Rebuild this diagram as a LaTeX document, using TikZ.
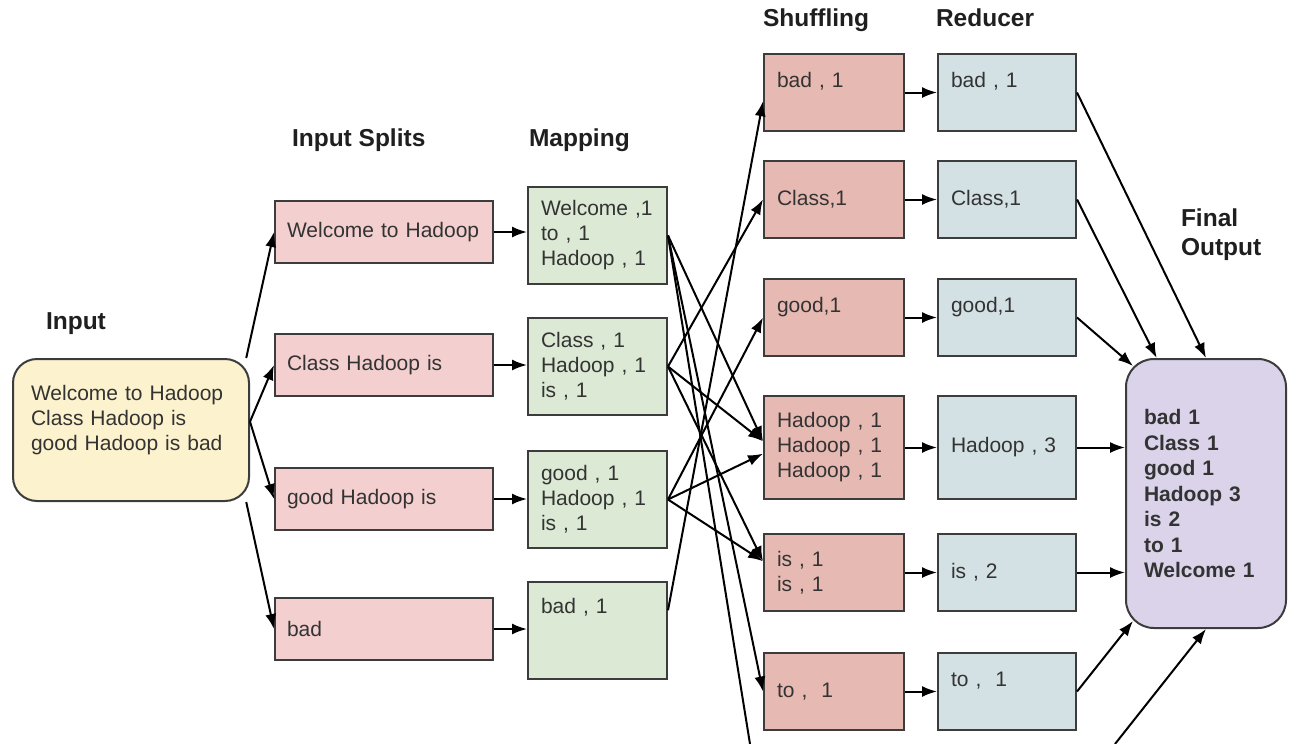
\documentclass[tikz,border=0pt]{standalone}
\usepackage{fontspec}
\setmainfont{Liberation Sans}
\usetikzlibrary{positioning,arrows.meta,calc}

\definecolor{edge}{HTML}{3C3C3C}
\definecolor{ink}{HTML}{333333}
\definecolor{inputfill}{HTML}{FCF2CE}
\definecolor{splitfill}{HTML}{F3CFCF}
\definecolor{mapfill}{HTML}{DCE9D5}
\definecolor{shuffill}{HTML}{E7B9B3}
\definecolor{redfill}{HTML}{D3E1E4}
\definecolor{outfill}{HTML}{DAD3EA}

\begin{document}
\begin{tikzpicture}[x=1pt, y=-1pt, line width=2pt,
    box/.style = {draw=edge, rectangle, anchor=north west, inner xsep=13pt, inner ysep=0pt, align=left, text=ink, font=\fontsize{21}{25}\selectfont},
    splitbox/.style = {box, fill=splitfill, inner xsep=12pt, text width=194pt, minimum height=62pt},
    mapbox/.style = {box, fill=mapfill, text width=113pt, minimum height=97pt},
    shufbox/.style = {box, fill=shuffill, text width=114pt, minimum height=77pt},
    redbox/.style = {box, fill=redfill, text width=112pt, minimum height=77pt},
    heading/.style = {anchor=base west, inner sep=0pt, text=black!88, font=\fontsize{24.5}{29}\selectfont\bfseries},
    arr/.style = {-{Latex[length=15pt,width=11pt]}, black}]
  \useasboundingbox (0,0) rectangle (1296,744);

  % headings
  \node[heading] (hinput) at (45,329) {Input};
  \node[heading] (hsplit) at (291,146) {Input Splits};
  \node[heading] (hmap) at (528,146) {Mapping};
  \node[heading] (hshuf) at (762,27) {Shuffling};
  \node[heading] (hred) at (935,27) {Reducer};
  \node[heading, anchor=west, align=left] (hout) at (1180,235) {Final\\Output};

  % input
  \node[box, fill=inputfill, rounded corners=24pt, inner xsep=18pt, text width=200pt, minimum height=142pt] (input) at (12,358)
    {Welcome to Hadoop\\Class Hadoop is\\good Hadoop is bad\\~};

  % input splits
  \node[splitbox] (s1) at (274,200) {Welcome to Hadoop};
  \node[splitbox] (s2) at (274,333) {Class Hadoop is};
  \node[splitbox] (s3) at (274,467) {good Hadoop is};
  \node[splitbox] (s4) at (274,597) {bad};

  % mapping
  \node[mapbox] (m1) at (527,186) {Welcome ,1\\to , 1\\Hadoop , 1};
  \node[mapbox] (m2) at (527,317) {Class , 1\\Hadoop , 1\\is , 1};
  \node[mapbox] (m3) at (527,450) {good , 1\\Hadoop , 1\\is , 1};
  \node[mapbox] (m4) at (527,581) {bad , 1\\~\\~};

  % shuffling
  \node[shufbox] (sh1) at (763,53) {bad , 1\\~};
  \node[shufbox] (sh2) at (763,160) {Class,1};
  \node[shufbox] (sh3) at (763,278) {good,1\\~};
  \node[shufbox, minimum height=103pt] (sh4) at (763,395) {Hadoop , 1\\Hadoop , 1\\Hadoop , 1};
  \node[shufbox] (sh5) at (763,533) {is , 1\\is , 1};
  \node[shufbox] (sh6) at (763,652) {to ,\ \ 1};

  % reducer
  \node[redbox] (r1) [right=32pt of sh1] {bad , 1\\~};
  \node[redbox] (r2) [right=32pt of sh2] {Class,1};
  \node[redbox] (r3) [right=32pt of sh3] {good,1\\~};
  \node[redbox, minimum height=103pt] (r4) [right=32pt of sh4] {Hadoop , 3};
  \node[redbox] (r5) [right=32pt of sh5] {is , 2};
  \node[redbox] (r6) [right=32pt of sh6] {to ,\ \ 1\\~};

  % final output
  \node[box, fill=outfill, rounded corners=28pt, inner xsep=18pt, text width=124pt, minimum height=269pt,
        font=\fontsize{21}{25.5}\selectfont\bfseries] (out) at (1125,358)
    {bad 1\\Class 1\\good 1\\Hadoop 3\\is 2\\to 1\\Welcome 1};

  % ends of the lines that run off the page
  \coordinate (wshuf) at (750,744);
  \coordinate (wred) at (1115,744);

  \draw[arr] (input.32) -- (s1.west);
  \draw[arr] (input.4) -- (s2.west);
  \draw[arr] (input.4) -- (s3.west);
  \draw[arr] (input.-32) -- (s4.west);

  \draw[arr] (s1.east) -- (s1.east -| m1.west);
  \draw[arr] (s2.east) -- (s2.east -| m2.west);
  \draw[arr] (s3.east) -- (s3.east -| m3.west);
  \draw[arr] (s4.east) -- (s4.east -| m4.west);

  \draw[arr] (m1.east) -- (sh4.175);
  \draw[arr] (m1.east) -- (sh6.west);
  \draw (m1.east) -- (wshuf);
  \draw[arr] (m2.east) -- (sh2.west);
  \draw[arr] (m2.east) -- (sh4.175);
  \draw[arr] (m2.east) -- (sh5.171);
  \draw[arr] (m3.east) -- (sh3.west);
  \draw[arr] (m3.east) -- (sh4.185);
  \draw[arr] (m3.east) -- (sh5.171);
  \draw[arr] (m4.16) -- (sh1.187);

  \draw[arr] (sh1.east) -- (r1.west);
  \draw[arr] (sh2.east) -- (r2.west);
  \draw[arr] (sh3.east) -- (r3.west);
  \draw[arr] (sh4.east) -- (r4.west);
  \draw[arr] (sh5.east) -- (r5.west);
  \draw[arr] (sh6.east) -- (r6.west);

  \draw[arr] (r1.east) -- (out.north);
  \draw[arr] (r2.east) -- (out.110);
  \draw[arr] (r3.east) -- ($(out.north west)+(8,8)$);
  \draw[arr] (r4.east) -- (r4.east -| out.west);
  \draw[arr] (r5.east) -- (r5.east -| out.west);
  \draw[arr] (r6.east) -- ($(out.south west)+(8,-8)$);
  \draw[arr] (wred) -- (out.south);
\end{tikzpicture}
\end{document}
